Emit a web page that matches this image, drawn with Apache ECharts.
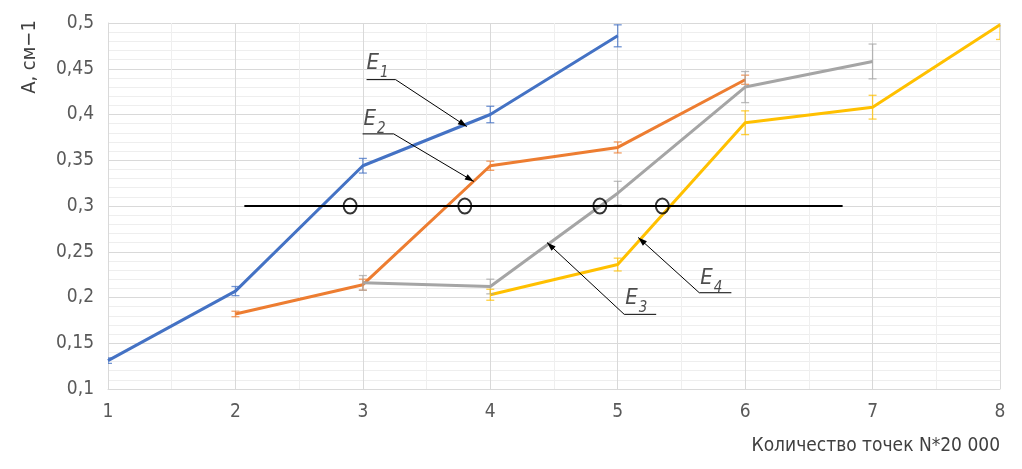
<!DOCTYPE html>
<html>
<head>
<meta charset="utf-8">
<script src="https://cdn.jsdelivr.net/npm/echarts@6/dist/echarts.min.js"></script>
<style>
html,body{margin:0;padding:0;background:#fff;}
#chart{width:1022px;height:469px;}
</style>
</head>
<body>
<div id="chart"></div>
<script>
// ---- data ----
const e1X = [1, 2, 3, 4, 5];
const e1Y = [0.131, 0.207, 0.344, 0.400, 0.486];
const e1Err = [0.003, 0.005, 0.008, 0.009, 0.012];

const e2X = [2, 3, 4, 5, 6];
const e2Y = [0.182, 0.214, 0.344, 0.364, 0.438];
const e2Err = [0.003, 0.006, 0.005, 0.006, 0.005];

const e3X = [3, 4, 5, 6, 7];
const e3Y = [0.216, 0.212, 0.314, 0.430, 0.458];
const e3Err = [0.008, 0.008, 0.013, 0.017, 0.019];

const e4X = [4, 5, 6, 7, 8];
const e4Y = [0.203, 0.236, 0.391, 0.408, 0.498];
const e4Err = [0.006, 0.007, 0.013, 0.013, 0.016];

const levelY = 0.3;
const levelX = [2.07, 6.765];
const crossX = [2.9, 3.8, 4.86, 5.35];

const seriesNames = ['E1', 'E2', 'E3', 'E4'];
const labelSubs = ['1', '2', '3', '4'];
const labelX = [3.116, 3.092, 5.145, 5.735];
const labelY = [0.4577, 0.3966, 0.2012, 0.2231];
// leader lines: underline start, underline end (= bend), arrow tip
const leaderX = [[3.029, 3.257, 3.816], [2.998, 3.242, 3.871], [5.302, 5.051, 4.445], [5.892, 5.640, 5.161]];
const leaderY = [[0.4381, 0.4381, 0.3868], [0.3788, 0.3788, 0.3268], [0.1816, 0.1816, 0.2601], [0.2052, 0.2052, 0.2656]];

const xTicks = [1, 2, 3, 4, 5, 6, 7, 8];
const yTicks = [0.1, 0.15, 0.2, 0.25, 0.3, 0.35, 0.4, 0.45, 0.5];

const colors = ['#4472C4', '#ED7D31', '#A5A5A5', '#FFC000'];
const FONT = "'DejaVu Sans Condensed', 'Liberation Sans Narrow', 'Roboto', sans-serif";

const groups = [[e1X, e1Y, e1Err], [e2X, e2Y, e2Err], [e3X, e3Y, e3Err], [e4X, e4Y, e4Err]];

const chart = echarts.init(document.getElementById('chart'));

const series = [];
groups.forEach((g, i) => {
  const [xs, ys, es] = g;
  series.push({
    name: seriesNames[i], type: 'line', symbol: 'none',
    data: xs.map((x, k) => [x, ys[k]]),
    lineStyle: { color: colors[i], width: 3 },
    z: 3
  });
  series.push({
    type: 'custom', clip: true, z: 4,
    data: xs.map((x, k) => [x, ys[k] - es[k], ys[k] + es[k]]),
    renderItem: function (params, api) {
      const lo = api.coord([api.value(0), api.value(1)]);
      const hi = api.coord([api.value(0), api.value(2)]);
      const w = 4;
      const st = { stroke: colors[i], lineWidth: 1.3, opacity: 0.75 };
      return {
        type: 'group',
        children: [
          { type: 'line', shape: { x1: lo[0], y1: lo[1], x2: hi[0], y2: hi[1] }, style: st },
          { type: 'line', shape: { x1: lo[0] - w, y1: lo[1], x2: lo[0] + w, y2: lo[1] }, style: st },
          { type: 'line', shape: { x1: hi[0] - w, y1: hi[1], x2: hi[0] + w, y2: hi[1] }, style: st }
        ]
      };
    }
  });
});

series.push({
  type: 'line', symbol: 'none', z: 5,
  data: levelX.map(x => [x, levelY]),
  lineStyle: { color: '#000', width: 2 }
});
series.push({
  type: 'scatter', z: 6,
  data: crossX.map(x => [x, levelY]),
  symbol: 'circle', symbolSize: [13, 15],
  itemStyle: { color: 'rgba(255,255,255,0)', borderColor: '#000', borderWidth: 2 }
});
// leader lines with arrow heads, drawn through the axes' scales
series.push({
  type: 'custom', z: 7, clip: false,
  data: leaderX.map((xs, i) => [xs[0], leaderY[i][0], xs[1], leaderY[i][1], xs[2], leaderY[i][2]]),
  renderItem: function (params, api) {
    const a = api.coord([api.value(0), api.value(1)]);
    const b = api.coord([api.value(2), api.value(3)]);
    const c = api.coord([api.value(4), api.value(5)]);
    const dx = c[0] - b[0], dy = c[1] - b[1];
    const len = Math.sqrt(dx * dx + dy * dy);
    const ux = dx / len, uy = dy / len;
    const L = 9, W = 3;
    const bx = c[0] - ux * L, by = c[1] - uy * L;
    const p1 = [bx - uy * W, by + ux * W];
    const p2 = [bx + uy * W, by - ux * W];
    return {
      type: 'group',
      children: [
        { type: 'polyline', shape: { points: [a, b, c] }, style: { stroke: '#000', lineWidth: 1, fill: null } },
        { type: 'polygon', shape: { points: [c, p1, p2] }, style: { fill: '#000' } }
      ]
    };
  }
});
series.push({
  type: 'scatter', z: 8, symbolSize: 1,
  itemStyle: { color: 'rgba(0,0,0,0)' },
  data: labelX.map((x, i) => ({ value: [x, labelY[i]], sub: labelSubs[i] })),
  label: {
    show: true, position: 'inside',
    formatter: p => '{e|E}{s|' + p.data.sub + '}',
    rich: {
      e: { fontFamily: FONT, fontStyle: 'italic', fontSize: 22, color: '#222', verticalAlign: 'bottom', lineHeight: 26 },
      s: { fontFamily: FONT, fontStyle: 'italic', fontSize: 15, color: '#222', verticalAlign: 'bottom', lineHeight: 20, padding: [0, 0, -6, 1] }
    }
  }
});

chart.setOption({
  animation: false,
  backgroundColor: '#fff',
  grid: { left: 108, right: 22, top: 23, bottom: 80 },
  xAxis: {
    type: 'value', min: xTicks[0], max: xTicks[xTicks.length - 1], interval: 1,
    axisLine: { lineStyle: { color: '#d9d9d9' } },
    axisTick: { show: false },
    axisLabel: { color: '#595959', fontFamily: FONT, fontSize: 19, margin: 14 },
    splitLine: { show: true, lineStyle: { color: '#d9d9d9', width: 1 } },
    minorTick: { show: false, splitNumber: 2 },
    minorSplitLine: { show: true, lineStyle: { color: '#efefef', width: 1 } }
  },
  yAxis: {
    type: 'value', min: yTicks[0], max: yTicks[yTicks.length - 1], interval: 0.05,
    axisLine: { show: true, lineStyle: { color: '#d9d9d9' } },
    axisTick: { show: false },
    axisLabel: {
      color: '#595959', fontFamily: FONT, fontSize: 19, margin: 14,
      formatter: v => String(+v.toFixed(2)).replace('.', ',')
    },
    splitLine: { show: true, lineStyle: { color: '#d9d9d9', width: 1 } },
    minorTick: { show: false, splitNumber: 5 },
    minorSplitLine: { show: true, lineStyle: { color: '#eeeeee', width: 1 } }
  },
  graphic: [
    {
      type: 'text', x: 30, y: 57, rotation: Math.PI / 2,
      style: { text: 'А, см−1', textAlign: 'center', textVerticalAlign: 'middle', font: '20px ' + FONT, fill: '#404040' }
    },
    {
      type: 'text', right: 22, top: 437,
      style: { text: 'Количество точек N*20 000', font: '19px ' + FONT, fill: '#404040' }
    }
  ],
  series: series
});
</script>
</body>
</html>
